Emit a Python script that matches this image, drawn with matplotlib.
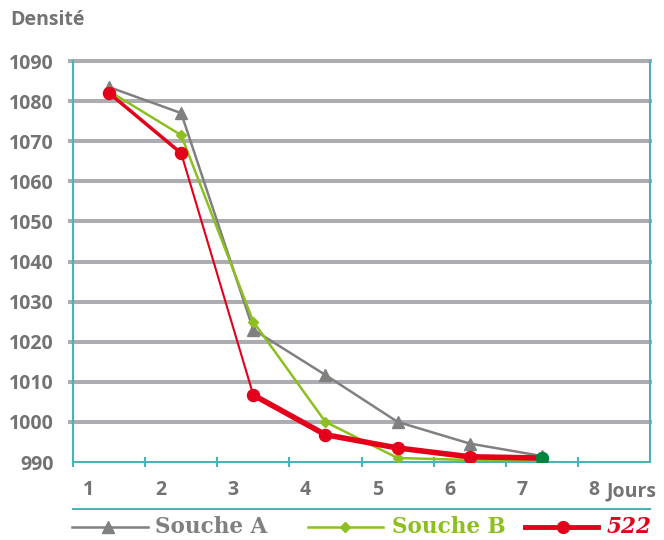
import matplotlib
matplotlib.use("Agg")
import matplotlib.pyplot as plt
from matplotlib.lines import Line2D

# values
jours = [1, 2, 3, 4, 5, 6, 7]
souche_a = [1083.5, 1077.0, 1023.0, 1011.7, 1000.0, 994.6, 991.5]
souche_b = [1082.5, 1071.5, 1025.0, 1000.0, 991.0, 990.5, 990.5]
s522 = [1082.0, 1067.0, 1006.7, 996.8, 993.5, 991.3, 991.0]
x_labels = ["1", "2", "3", "4", "5", "6", "7", "8"]
y_ticks = [990, 1000, 1010, 1020, 1030, 1040, 1050, 1060, 1070, 1080, 1090]

GRAY = "#808080"
GREEN = "#8cbf1f"
RED = "#e3001b"
DKGREEN = "#00843d"
TEAL = "#4bb3b8"
GRID = "#acacb1"
TXT = "#737373"
FS = 14

fig = plt.figure(figsize=(6.64, 5.4), dpi=100)
ax = fig.add_axes([73 / 664, 1 - 462 / 540, (650 - 73) / 664, (462 - 61) / 540])

ax.set_xlim(0.5, 8.5)
ax.set_ylim(990, 1090)

for y in y_ticks[1:]:
    ax.plot([0.46, 8.5], [y, y], color=GRID, lw=2.9, zorder=1, clip_on=False)

ax.plot(jours, souche_a, color=GRAY, lw=1.8, marker="^", ms=8, zorder=3)
ax.plot(jours, souche_b, color=GREEN, lw=1.8, marker="D", ms=5.5, zorder=4)
# red series: line weight varies between segments in the reference
widths = [2.5, 1.5, 4, 4, 4, 4]
for i, w in enumerate(widths):
    ax.plot(jours[i:i + 2], s522[i:i + 2], color=RED, lw=w, solid_capstyle="round", zorder=5)
ax.scatter(jours[:-1], s522[:-1], s=75, color=RED, zorder=6)
ax.scatter(jours[-1:], s522[-1:], s=75, color=DKGREEN, zorder=6)

for side in ["left", "bottom", "right"]:
    ax.spines[side].set_color(TEAL)
    ax.spines[side].set_linewidth(1.5)
ax.spines["top"].set_visible(False)

ax.set_yticks(y_ticks)
ax.set_yticklabels([str(v) for v in y_ticks], fontsize=FS, fontweight="bold",
                   color=TXT, family="Open Sans")
ax.tick_params(axis="y", length=0, pad=14)

# tick marks between categories, labels sit left of the category centre
ax.set_xticks([i + 0.5 for i in range(8)], minor=True)
ax.tick_params(axis="x", which="minor", length=7, width=1.5, color=TEAL, direction="inout")
ax.set_xticks([i + 1 - 0.28 for i in range(8)])
ax.set_xticklabels(x_labels, fontsize=FS, fontweight="bold", color=TXT, family="Open Sans")
ax.tick_params(axis="x", which="major", length=0, pad=13)

fig.text(10 / 664, 1 - 20 / 540, "Densité", fontsize=FS, fontweight="bold", color=TXT,
         family="Open Sans", va="center")
fig.text(606 / 664, 1 - 491 / 540, "Jours", fontsize=FS, fontweight="bold", color=TXT,
         family="Open Sans", va="center")

# separator line under the x labels
fig.add_artist(Line2D([73 / 664, 650 / 664], [1 - 509 / 540] * 2, color=TEAL, lw=1.5))

# legend, drawn by hand
ly = 1 - 527 / 540
entries = [
    (72, 148, 108, "^", 8, GRAY, "Souche A", 155, GRAY, 1.8),
    (308, 383, 345, "D", 5.5, GREEN, "Souche B", 392, GREEN, 1.8),
    (525, 598, 563, "o", 8.5, RED, "522", 607, RED, 3.5),
]
for x0, x1, xm, mk, ms, col, lab, xt, tcol, lw in entries:
    fig.add_artist(Line2D([x0 / 664, x1 / 664], [ly, ly], color=col, lw=lw))
    fig.add_artist(Line2D([xm / 664], [ly], marker=mk, ms=ms, color=col, lw=0))
    fig.text(xt / 664, ly, lab, fontsize=15.5, fontweight="bold", color=tcol,
             family="DejaVu Serif", va="center",
             style="italic" if lab == "522" else "normal")

fig.savefig("out.png", dpi=100)
